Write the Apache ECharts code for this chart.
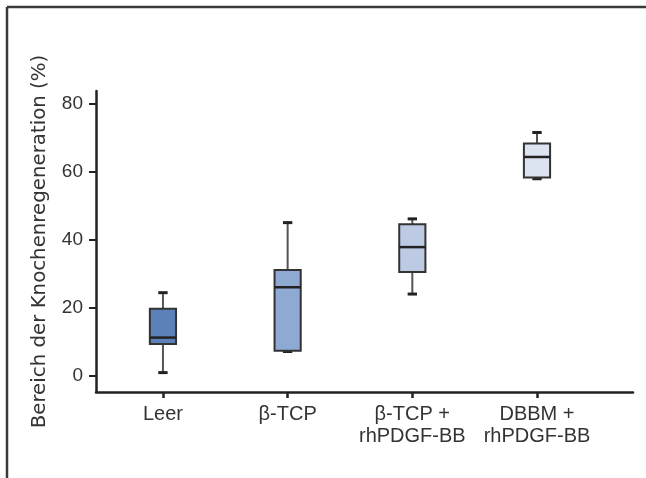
<!DOCTYPE html>
<html>
<head>
<meta charset="utf-8">
<script src="https://cdn.jsdelivr.net/npm/echarts@6/dist/echarts.min.js"></script>
<style>
  html, body { margin: 0; padding: 0; background: #fff; }
  #chart { width: 646px; height: 478px; }
</style>
</head>
<body>
<div id="chart"></div>
<script>
// groups and box statistics (min, Q1, median, Q3, max)
var categories = ['Leer', 'β-TCP', 'β-TCP +\nrhPDGF-BB', 'DBBM +\nrhPDGF-BB']
var minVals = [1.0, 7.2, 24.1, 58.0]
var q1Vals = [9.4, 7.4, 30.6, 58.4]
var medians = [11.3, 26.1, 37.9, 64.4]
var q3Vals = [19.8, 31.2, 44.6, 68.4]
var maxVals = [24.5, 45.1, 46.2, 71.6]
var yTicks = [0, 20, 40, 60, 80]

var boxColors = ['#5b81b8', '#8ea9d2', '#bccae4', '#dce3f1']
var fontFamily = '"Liberation Sans", Arial, sans-serif'

var seriesData = categories.map(function (c, i) {
  return [i, minVals[i], q1Vals[i], medians[i], q3Vals[i], maxVals[i]]
})

function renderBox (params, api) {
  var x = api.value(0)
  var pMin = api.coord([x, api.value(1)])
  var pQ1 = api.coord([x, api.value(2)])
  var pMed = api.coord([x, api.value(3)])
  var pQ3 = api.coord([x, api.value(4)])
  var pMax = api.coord([x, api.value(5)])
  var band = api.size([1, 0])[0]
  var bw = band * 0.21
  var cw = band * 0.075
  var cx = pMed[0]
  var stem = { stroke: '#555', lineWidth: 2 }
  var cap = { stroke: '#222', lineWidth: 3 }
  return {
    type: 'group',
    children: [
      { type: 'line', shape: { x1: cx, y1: pQ3[1], x2: cx, y2: pMax[1] }, style: stem },
      { type: 'line', shape: { x1: cx, y1: pQ1[1], x2: cx, y2: pMin[1] }, style: stem },
      { type: 'line', shape: { x1: cx - cw / 2, y1: pMax[1], x2: cx + cw / 2, y2: pMax[1] }, style: cap },
      { type: 'line', shape: { x1: cx - cw / 2, y1: pMin[1], x2: cx + cw / 2, y2: pMin[1] }, style: cap },
      {
        type: 'rect',
        shape: { x: cx - bw / 2, y: pQ3[1], width: bw, height: pQ1[1] - pQ3[1] },
        style: { fill: boxColors[params.dataIndex], stroke: '#333', lineWidth: 2 }
      },
      { type: 'line', shape: { x1: cx - bw / 2, y1: pMed[1], x2: cx + bw / 2, y2: pMed[1] }, style: { stroke: '#222', lineWidth: 2.5 } }
    ]
  }
}

var chart = echarts.init(document.getElementById('chart'), null, { renderer: 'canvas' })
chart.setOption({
  animation: false,
  grid: { left: 96, right: 13, top: 91, bottom: 86 },
  graphic: [
    { type: 'line', shape: { x1: 7, y1: 7, x2: 646, y2: 7 }, style: { stroke: '#3a3a3a', lineWidth: 2.5 } },
    { type: 'line', shape: { x1: 7, y1: 7, x2: 7, y2: 478 }, style: { stroke: '#3a3a3a', lineWidth: 2.5 } }
  ],
  xAxis: {
    type: 'value',
    min: -0.537,
    max: 3.77,
    splitLine: { show: false },
    axisLine: { show: true, onZero: false, lineStyle: { color: '#222', width: 2.5 } },
    axisTick: { show: true, customValues: [0, 1, 2, 3], length: 6, lineStyle: { color: '#222', width: 2.5 } },
    axisLabel: {
      customValues: [0, 1, 2, 3],
      formatter: function (v) { return categories[Math.round(v)] },
      margin: 11,
      color: '#333',
      fontSize: 20,
      lineHeight: 22,
      fontFamily: fontFamily
    }
  },
  yAxis: {
    type: 'value',
    min: -4.7,
    max: 83.8,
    splitLine: { show: false },
    name: 'Bereich der Knochenregeneration (%)',
    nameLocation: 'middle',
    nameGap: 46,
    nameTextStyle: { color: '#333', fontSize: 19.8, fontFamily: '"DejaVu Sans", sans-serif' },
    axisLine: { show: true, onZero: false, lineStyle: { color: '#222', width: 2.5 } },
    axisTick: { show: true, inside: false, customValues: yTicks, length: 7, lineStyle: { color: '#222', width: 2 } },
    axisLabel: {
      customValues: yTicks,
      margin: 13,
      color: '#333',
      fontSize: 19,
      fontFamily: fontFamily
    }
  },
  series: [{
    type: 'custom',
    renderItem: renderBox,
    encode: { x: 0, y: [1, 2, 3, 4, 5] },
    data: seriesData
  }]
})
</script>
</body>
</html>
